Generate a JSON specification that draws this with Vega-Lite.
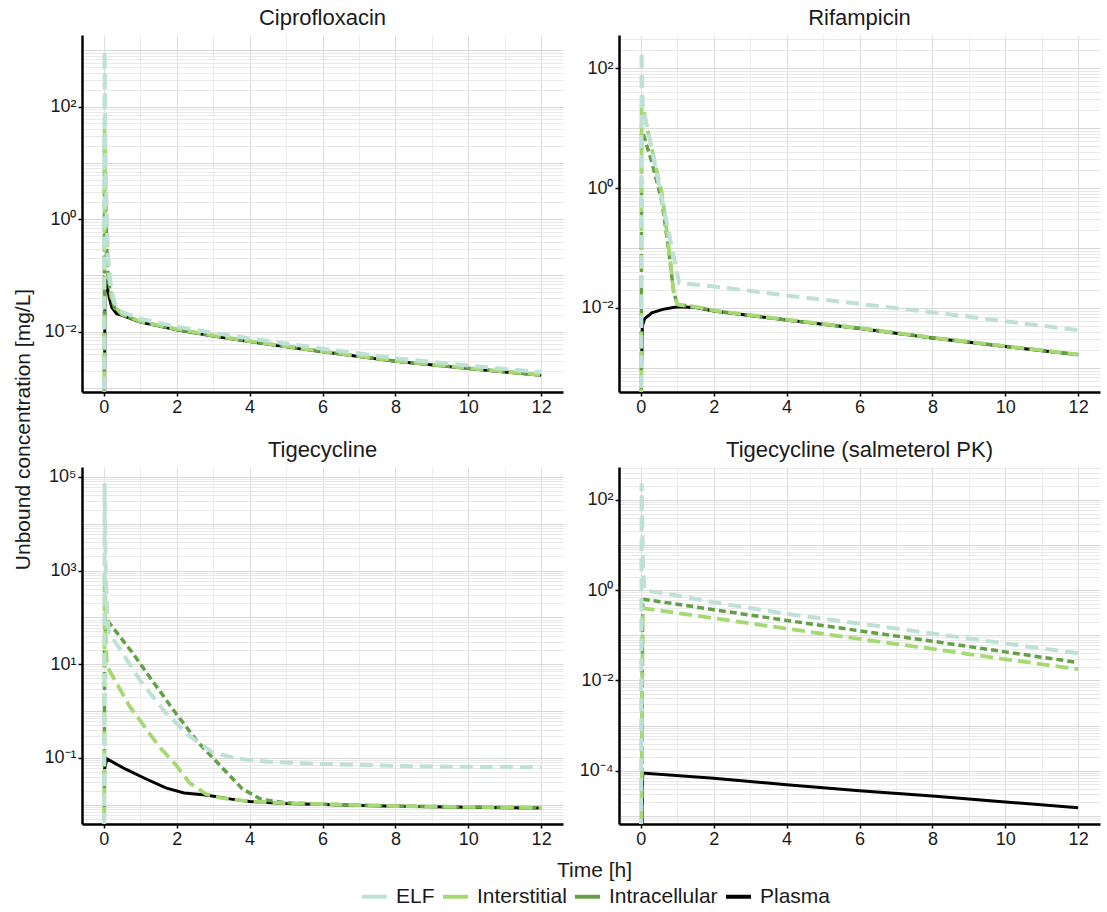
{
  "$schema": "https://vega.github.io/schema/vega-lite/v6.json",
  "padding": {"left": 12, "top": 7, "right": 4, "bottom": 0},
  "datasets": {
    "pk": [
      {"drug":"Ciprofloxacin","site":"ELF","time":0,"conc":1e-8},{"drug":"Ciprofloxacin","site":"ELF","time":0.02,"conc":955},{"drug":"Ciprofloxacin","site":"ELF","time":0.04,"conc":30},{"drug":"Ciprofloxacin","site":"ELF","time":0.08,"conc":1.0},{"drug":"Ciprofloxacin","site":"ELF","time":0.12,"conc":0.2},{"drug":"Ciprofloxacin","site":"ELF","time":0.2,"conc":0.06},{"drug":"Ciprofloxacin","site":"ELF","time":0.3,"conc":0.032},{"drug":"Ciprofloxacin","site":"ELF","time":0.5,"conc":0.0224},{"drug":"Ciprofloxacin","site":"ELF","time":1,"conc":0.017},{"drug":"Ciprofloxacin","site":"ELF","time":2,"conc":0.0123},{"drug":"Ciprofloxacin","site":"ELF","time":3,"conc":0.00955},{"drug":"Ciprofloxacin","site":"ELF","time":4,"conc":0.00759},{"drug":"Ciprofloxacin","site":"ELF","time":6,"conc":0.00501},{"drug":"Ciprofloxacin","site":"ELF","time":8,"conc":0.00339},{"drug":"Ciprofloxacin","site":"ELF","time":10,"conc":0.00251},{"drug":"Ciprofloxacin","site":"ELF","time":12,"conc":0.00191},
      {"drug":"Ciprofloxacin","site":"Interstitial","time":0,"conc":1e-8},{"drug":"Ciprofloxacin","site":"Interstitial","time":0.02,"conc":40},{"drug":"Ciprofloxacin","site":"Interstitial","time":0.04,"conc":5},{"drug":"Ciprofloxacin","site":"Interstitial","time":0.08,"conc":0.5},{"drug":"Ciprofloxacin","site":"Interstitial","time":0.12,"conc":0.12},{"drug":"Ciprofloxacin","site":"Interstitial","time":0.2,"conc":0.045},{"drug":"Ciprofloxacin","site":"Interstitial","time":0.3,"conc":0.028},{"drug":"Ciprofloxacin","site":"Interstitial","time":0.5,"conc":0.0205},{"drug":"Ciprofloxacin","site":"Interstitial","time":1,"conc":0.0153},{"drug":"Ciprofloxacin","site":"Interstitial","time":2,"conc":0.0111},{"drug":"Ciprofloxacin","site":"Interstitial","time":3,"conc":0.0086},{"drug":"Ciprofloxacin","site":"Interstitial","time":4,"conc":0.0068},{"drug":"Ciprofloxacin","site":"Interstitial","time":6,"conc":0.0045},{"drug":"Ciprofloxacin","site":"Interstitial","time":8,"conc":0.00305},{"drug":"Ciprofloxacin","site":"Interstitial","time":10,"conc":0.00226},{"drug":"Ciprofloxacin","site":"Interstitial","time":12,"conc":0.00171},
      {"drug":"Ciprofloxacin","site":"Intracellular","time":0,"conc":1e-8},{"drug":"Ciprofloxacin","site":"Intracellular","time":0.02,"conc":31.6},{"drug":"Ciprofloxacin","site":"Intracellular","time":0.04,"conc":3},{"drug":"Ciprofloxacin","site":"Intracellular","time":0.08,"conc":0.3},{"drug":"Ciprofloxacin","site":"Intracellular","time":0.12,"conc":0.09},{"drug":"Ciprofloxacin","site":"Intracellular","time":0.2,"conc":0.04},{"drug":"Ciprofloxacin","site":"Intracellular","time":0.3,"conc":0.026},{"drug":"Ciprofloxacin","site":"Intracellular","time":0.5,"conc":0.02},{"drug":"Ciprofloxacin","site":"Intracellular","time":1,"conc":0.0151},{"drug":"Ciprofloxacin","site":"Intracellular","time":2,"conc":0.01096},{"drug":"Ciprofloxacin","site":"Intracellular","time":3,"conc":0.00851},{"drug":"Ciprofloxacin","site":"Intracellular","time":4,"conc":0.00676},{"drug":"Ciprofloxacin","site":"Intracellular","time":6,"conc":0.00447},{"drug":"Ciprofloxacin","site":"Intracellular","time":8,"conc":0.00302},{"drug":"Ciprofloxacin","site":"Intracellular","time":10,"conc":0.00224},{"drug":"Ciprofloxacin","site":"Intracellular","time":12,"conc":0.0017},
      {"drug":"Ciprofloxacin","site":"Plasma","time":0,"conc":1e-8},{"drug":"Ciprofloxacin","site":"Plasma","time":0.03,"conc":0.085},{"drug":"Ciprofloxacin","site":"Plasma","time":0.06,"conc":0.08},{"drug":"Ciprofloxacin","site":"Plasma","time":0.1,"conc":0.06},{"drug":"Ciprofloxacin","site":"Plasma","time":0.15,"conc":0.04},{"drug":"Ciprofloxacin","site":"Plasma","time":0.22,"conc":0.027},{"drug":"Ciprofloxacin","site":"Plasma","time":0.35,"conc":0.021},{"drug":"Ciprofloxacin","site":"Plasma","time":0.5,"conc":0.0195},{"drug":"Ciprofloxacin","site":"Plasma","time":1,"conc":0.0149},{"drug":"Ciprofloxacin","site":"Plasma","time":2,"conc":0.0108},{"drug":"Ciprofloxacin","site":"Plasma","time":3,"conc":0.0084},{"drug":"Ciprofloxacin","site":"Plasma","time":4,"conc":0.0067},{"drug":"Ciprofloxacin","site":"Plasma","time":6,"conc":0.00443},{"drug":"Ciprofloxacin","site":"Plasma","time":8,"conc":0.003},{"drug":"Ciprofloxacin","site":"Plasma","time":10,"conc":0.00222},{"drug":"Ciprofloxacin","site":"Plasma","time":12,"conc":0.00169},

      {"drug":"Rifampicin","site":"ELF","time":0,"conc":1e-8},{"drug":"Rifampicin","site":"ELF","time":0.02,"conc":190},{"drug":"Rifampicin","site":"ELF","time":0.05,"conc":24},{"drug":"Rifampicin","site":"ELF","time":0.3,"conc":4.4},{"drug":"Rifampicin","site":"ELF","time":0.5,"conc":1.12},{"drug":"Rifampicin","site":"ELF","time":0.8,"conc":0.145},{"drug":"Rifampicin","site":"ELF","time":1.05,"conc":0.0263},{"drug":"Rifampicin","site":"ELF","time":2,"conc":0.0229},{"drug":"Rifampicin","site":"ELF","time":4,"conc":0.0162},{"drug":"Rifampicin","site":"ELF","time":6,"conc":0.0117},{"drug":"Rifampicin","site":"ELF","time":8,"conc":0.0085},{"drug":"Rifampicin","site":"ELF","time":10,"conc":0.006},{"drug":"Rifampicin","site":"ELF","time":12,"conc":0.00427},
      {"drug":"Rifampicin","site":"Interstitial","time":0,"conc":1e-8},{"drug":"Rifampicin","site":"Interstitial","time":0.02,"conc":24},{"drug":"Rifampicin","site":"Interstitial","time":0.05,"conc":22},{"drug":"Rifampicin","site":"Interstitial","time":0.3,"conc":4.5},{"drug":"Rifampicin","site":"Interstitial","time":0.58,"conc":0.8},{"drug":"Rifampicin","site":"Interstitial","time":0.77,"conc":0.1},{"drug":"Rifampicin","site":"Interstitial","time":0.9,"conc":0.019},{"drug":"Rifampicin","site":"Interstitial","time":1.0,"conc":0.0115},{"drug":"Rifampicin","site":"Interstitial","time":1.1,"conc":0.0112},{"drug":"Rifampicin","site":"Interstitial","time":1.5,"conc":0.0104},{"drug":"Rifampicin","site":"Interstitial","time":2,"conc":0.0091},{"drug":"Rifampicin","site":"Interstitial","time":4,"conc":0.0064},{"drug":"Rifampicin","site":"Interstitial","time":6,"conc":0.00462},{"drug":"Rifampicin","site":"Interstitial","time":8,"conc":0.0032},{"drug":"Rifampicin","site":"Interstitial","time":10,"conc":0.00231},{"drug":"Rifampicin","site":"Interstitial","time":12,"conc":0.00168},
      {"drug":"Rifampicin","site":"Intracellular","time":0,"conc":1e-8},{"drug":"Rifampicin","site":"Intracellular","time":0.02,"conc":8.5},{"drug":"Rifampicin","site":"Intracellular","time":0.05,"conc":8.5},{"drug":"Rifampicin","site":"Intracellular","time":0.3,"conc":2.7},{"drug":"Rifampicin","site":"Intracellular","time":0.58,"conc":0.59},{"drug":"Rifampicin","site":"Intracellular","time":0.77,"conc":0.085},{"drug":"Rifampicin","site":"Intracellular","time":0.9,"conc":0.0186},{"drug":"Rifampicin","site":"Intracellular","time":1.0,"conc":0.0115},{"drug":"Rifampicin","site":"Intracellular","time":1.1,"conc":0.0112},{"drug":"Rifampicin","site":"Intracellular","time":1.5,"conc":0.0104},{"drug":"Rifampicin","site":"Intracellular","time":2,"conc":0.009},{"drug":"Rifampicin","site":"Intracellular","time":4,"conc":0.0063},{"drug":"Rifampicin","site":"Intracellular","time":6,"conc":0.0046},{"drug":"Rifampicin","site":"Intracellular","time":8,"conc":0.0032},{"drug":"Rifampicin","site":"Intracellular","time":10,"conc":0.0023},{"drug":"Rifampicin","site":"Intracellular","time":12,"conc":0.00167},
      {"drug":"Rifampicin","site":"Plasma","time":0,"conc":1e-8},{"drug":"Rifampicin","site":"Plasma","time":0.02,"conc":0.001},{"drug":"Rifampicin","site":"Plasma","time":0.04,"conc":0.005},{"drug":"Rifampicin","site":"Plasma","time":0.1,"conc":0.0066},{"drug":"Rifampicin","site":"Plasma","time":0.3,"conc":0.0083},{"drug":"Rifampicin","site":"Plasma","time":0.6,"conc":0.0095},{"drug":"Rifampicin","site":"Plasma","time":1.0,"conc":0.0105},{"drug":"Rifampicin","site":"Plasma","time":1.5,"conc":0.0102},{"drug":"Rifampicin","site":"Plasma","time":2,"conc":0.0089},{"drug":"Rifampicin","site":"Plasma","time":4,"conc":0.0063},{"drug":"Rifampicin","site":"Plasma","time":6,"conc":0.00457},{"drug":"Rifampicin","site":"Plasma","time":8,"conc":0.00316},{"drug":"Rifampicin","site":"Plasma","time":10,"conc":0.00229},{"drug":"Rifampicin","site":"Plasma","time":12,"conc":0.00166},

      {"drug":"Tigecycline","site":"ELF","time":0,"conc":1e-8},{"drug":"Tigecycline","site":"ELF","time":0.02,"conc":72444},{"drug":"Tigecycline","site":"ELF","time":0.05,"conc":1000},{"drug":"Tigecycline","site":"ELF","time":0.1,"conc":100},{"drug":"Tigecycline","site":"ELF","time":0.14,"conc":47.9},{"drug":"Tigecycline","site":"ELF","time":0.5,"conc":17.8},{"drug":"Tigecycline","site":"ELF","time":1.0,"conc":4.47},{"drug":"Tigecycline","site":"ELF","time":1.7,"conc":0.91},{"drug":"Tigecycline","site":"ELF","time":2.35,"conc":0.295},{"drug":"Tigecycline","site":"ELF","time":3.0,"conc":0.129},{"drug":"Tigecycline","site":"ELF","time":3.7,"conc":0.0955},{"drug":"Tigecycline","site":"ELF","time":4.5,"conc":0.083},{"drug":"Tigecycline","site":"ELF","time":6,"conc":0.0741},{"drug":"Tigecycline","site":"ELF","time":8,"conc":0.0676},{"drug":"Tigecycline","site":"ELF","time":10,"conc":0.0646},{"drug":"Tigecycline","site":"ELF","time":12,"conc":0.0631},
      {"drug":"Tigecycline","site":"Interstitial","time":0,"conc":1e-8},{"drug":"Tigecycline","site":"Interstitial","time":0.02,"conc":871},{"drug":"Tigecycline","site":"Interstitial","time":0.05,"conc":40},{"drug":"Tigecycline","site":"Interstitial","time":0.08,"conc":9.3},{"drug":"Tigecycline","site":"Interstitial","time":0.7,"conc":1.29},{"drug":"Tigecycline","site":"Interstitial","time":1.5,"conc":0.182},{"drug":"Tigecycline","site":"Interstitial","time":2.0,"conc":0.0676},{"drug":"Tigecycline","site":"Interstitial","time":2.35,"conc":0.0295},{"drug":"Tigecycline","site":"Interstitial","time":2.8,"conc":0.017},{"drug":"Tigecycline","site":"Interstitial","time":3.2,"conc":0.0141},{"drug":"Tigecycline","site":"Interstitial","time":4,"conc":0.0118},{"drug":"Tigecycline","site":"Interstitial","time":5,"conc":0.0108},{"drug":"Tigecycline","site":"Interstitial","time":6,"conc":0.0103},{"drug":"Tigecycline","site":"Interstitial","time":8,"conc":0.0094},{"drug":"Tigecycline","site":"Interstitial","time":10,"conc":0.009},{"drug":"Tigecycline","site":"Interstitial","time":12,"conc":0.0086},
      {"drug":"Tigecycline","site":"Intracellular","time":0,"conc":1e-8},{"drug":"Tigecycline","site":"Intracellular","time":0.02,"conc":30},{"drug":"Tigecycline","site":"Intracellular","time":0.05,"conc":60},{"drug":"Tigecycline","site":"Intracellular","time":0.14,"conc":77.6},{"drug":"Tigecycline","site":"Intracellular","time":0.78,"conc":17.8},{"drug":"Tigecycline","site":"Intracellular","time":1.43,"conc":3.47},{"drug":"Tigecycline","site":"Intracellular","time":1.97,"conc":0.91},{"drug":"Tigecycline","site":"Intracellular","time":2.6,"conc":0.209},{"drug":"Tigecycline","site":"Intracellular","time":3.2,"conc":0.0676},{"drug":"Tigecycline","site":"Intracellular","time":3.8,"conc":0.0219},{"drug":"Tigecycline","site":"Intracellular","time":4.3,"conc":0.0132},{"drug":"Tigecycline","site":"Intracellular","time":5,"conc":0.011},{"drug":"Tigecycline","site":"Intracellular","time":6,"conc":0.0103},{"drug":"Tigecycline","site":"Intracellular","time":8,"conc":0.0094},{"drug":"Tigecycline","site":"Intracellular","time":10,"conc":0.009},{"drug":"Tigecycline","site":"Intracellular","time":12,"conc":0.0086},
      {"drug":"Tigecycline","site":"Plasma","time":0,"conc":1e-8},{"drug":"Tigecycline","site":"Plasma","time":0.02,"conc":0.058},{"drug":"Tigecycline","site":"Plasma","time":0.08,"conc":0.0955},{"drug":"Tigecycline","site":"Plasma","time":0.6,"conc":0.0575},{"drug":"Tigecycline","site":"Plasma","time":1.16,"conc":0.0355},{"drug":"Tigecycline","site":"Plasma","time":1.7,"conc":0.0229},{"drug":"Tigecycline","site":"Plasma","time":2.2,"conc":0.0178},{"drug":"Tigecycline","site":"Plasma","time":2.8,"conc":0.0162},{"drug":"Tigecycline","site":"Plasma","time":3.5,"conc":0.0132},{"drug":"Tigecycline","site":"Plasma","time":4,"conc":0.0118},{"drug":"Tigecycline","site":"Plasma","time":5,"conc":0.0107},{"drug":"Tigecycline","site":"Plasma","time":6,"conc":0.0102},{"drug":"Tigecycline","site":"Plasma","time":8,"conc":0.0093},{"drug":"Tigecycline","site":"Plasma","time":10,"conc":0.0089},{"drug":"Tigecycline","site":"Plasma","time":12,"conc":0.0085},

      {"drug":"Tigecycline (salmeterol PK)","site":"ELF","time":0,"conc":1e-8},{"drug":"Tigecycline (salmeterol PK)","site":"ELF","time":0.02,"conc":234},{"drug":"Tigecycline (salmeterol PK)","site":"ELF","time":0.06,"conc":3},{"drug":"Tigecycline (salmeterol PK)","site":"ELF","time":0.1,"conc":1.0},{"drug":"Tigecycline (salmeterol PK)","site":"ELF","time":1,"conc":0.76},{"drug":"Tigecycline (salmeterol PK)","site":"ELF","time":2,"conc":0.54},{"drug":"Tigecycline (salmeterol PK)","site":"ELF","time":4,"conc":0.30},{"drug":"Tigecycline (salmeterol PK)","site":"ELF","time":6,"conc":0.182},{"drug":"Tigecycline (salmeterol PK)","site":"ELF","time":8,"conc":0.11},{"drug":"Tigecycline (salmeterol PK)","site":"ELF","time":10,"conc":0.066},{"drug":"Tigecycline (salmeterol PK)","site":"ELF","time":12,"conc":0.04},
      {"drug":"Tigecycline (salmeterol PK)","site":"Interstitial","time":0,"conc":1e-8},{"drug":"Tigecycline (salmeterol PK)","site":"Interstitial","time":0.05,"conc":0.40},{"drug":"Tigecycline (salmeterol PK)","site":"Interstitial","time":2,"conc":0.24},{"drug":"Tigecycline (salmeterol PK)","site":"Interstitial","time":4,"conc":0.141},{"drug":"Tigecycline (salmeterol PK)","site":"Interstitial","time":6,"conc":0.083},{"drug":"Tigecycline (salmeterol PK)","site":"Interstitial","time":8,"conc":0.05},{"drug":"Tigecycline (salmeterol PK)","site":"Interstitial","time":10,"conc":0.0295},{"drug":"Tigecycline (salmeterol PK)","site":"Interstitial","time":12,"conc":0.0178},
      {"drug":"Tigecycline (salmeterol PK)","site":"Intracellular","time":0,"conc":1e-8},{"drug":"Tigecycline (salmeterol PK)","site":"Intracellular","time":0.05,"conc":0.63},{"drug":"Tigecycline (salmeterol PK)","site":"Intracellular","time":1,"conc":0.49},{"drug":"Tigecycline (salmeterol PK)","site":"Intracellular","time":2,"conc":0.37},{"drug":"Tigecycline (salmeterol PK)","site":"Intracellular","time":4,"conc":0.214},{"drug":"Tigecycline (salmeterol PK)","site":"Intracellular","time":6,"conc":0.126},{"drug":"Tigecycline (salmeterol PK)","site":"Intracellular","time":8,"conc":0.074},{"drug":"Tigecycline (salmeterol PK)","site":"Intracellular","time":10,"conc":0.043},{"drug":"Tigecycline (salmeterol PK)","site":"Intracellular","time":12,"conc":0.025},
      {"drug":"Tigecycline (salmeterol PK)","site":"Plasma","time":0,"conc":1e-8},{"drug":"Tigecycline (salmeterol PK)","site":"Plasma","time":0.05,"conc":8.9e-5},{"drug":"Tigecycline (salmeterol PK)","site":"Plasma","time":2,"conc":6.8e-5},{"drug":"Tigecycline (salmeterol PK)","site":"Plasma","time":4,"conc":4.9e-5},{"drug":"Tigecycline (salmeterol PK)","site":"Plasma","time":6,"conc":3.6e-5},{"drug":"Tigecycline (salmeterol PK)","site":"Plasma","time":8,"conc":2.75e-5},{"drug":"Tigecycline (salmeterol PK)","site":"Plasma","time":10,"conc":2.04e-5},{"drug":"Tigecycline (salmeterol PK)","site":"Plasma","time":12,"conc":1.51e-5}
    ]
  },
  "config": {
    "font": "Liberation Sans",
    "view": {"stroke": null},
    "axis": {
      "labelFont": "Liberation Sans", "labelFontSize": 18, "labelColor": "#1a1a1a", "labelPadding": 2,
      "labelOverlap": false, "labelFlush": false, "labelBound": false,
      "titleFont": "Liberation Sans", "titleFontSize": 21, "titleFontWeight": "normal", "titleColor": "#1a1a1a",
      "domainColor": "#000000", "domainWidth": 2.5, "tickColor": "#000000", "tickWidth": 1.5, "tickSize": 4,
      "gridWidth": 1
    },
    "axisX": {"titlePadding": 11},
    "axisY": {"titlePadding": 10},
    "title": {"font": "Liberation Sans", "fontSize": 22, "fontWeight": "normal", "color": "#1a1a1a", "offset": 5, "anchor": "middle", "frame": "group"},
    "legend": {"labelFont": "Liberation Sans", "labelFontSize": 21, "labelColor": "#1a1a1a"}
  },
  "bounds": "flush",
  "columns": 2,
  "spacing": {"row": 75, "column": 56},
  "concat": [
    {
      "title": "Ciprofloxacin",
      "width": 481, "height": 357,
      "data": {"name": "pk"},
      "transform": [{"filter": "datum.drug == 'Ciprofloxacin'"}],
      "encoding": {
        "x": {"field": "time", "type": "quantitative", "scale": {"domain": [-0.6, 12.6], "nice": false, "zero": false},
              "axis": {"title": null, "values": [0,1,2,3,4,5,6,7,8,9,10,11,12], "labelExpr": "datum.value % 2 == 0 ? datum.label : ''",
                       "tickOpacity": {"condition": {"test": "datum.value % 2 == 0", "value": 1}, "value": 0},
                       "gridColor": {"condition": {"test": "datum.value % 2 == 0", "value": "#dedede"}, "value": "#ececec"}}},
        "y": {"field": "conc", "type": "quantitative", "scale": {"type": "log", "domain": [0.000851, 1862], "nice": false},
              "axis": {"title": "Unbound concentration [mg/L]", "titleY": 394,
                       "values": [1e-6,2e-6,3e-6,4e-6,5e-6,6e-6,7e-6,8e-6,9e-6,1e-5,2e-5,3e-5,4e-5,5e-5,6e-5,7e-5,8e-5,9e-5,1e-4,2e-4,3e-4,4e-4,5e-4,6e-4,7e-4,8e-4,9e-4,0.001,0.002,0.003,0.004,0.005,0.006,0.007,0.008,0.009,0.01,0.02,0.03,0.04,0.05,0.06,0.07,0.08,0.09,0.1,0.2,0.3,0.4,0.5,0.6,0.7,0.8,0.9,1,2,3,4,5,6,7,8,9,10,20,30,40,50,60,70,80,90,100,200,300,400,500,600,700,800,900,1000,2000,3000,4000,5000,6000,7000,8000,9000,10000,20000,30000,40000,50000,60000,70000,80000,90000,100000,200000,300000,400000,500000,600000,700000,800000,900000],
                       "labelExpr": "datum.value == 100 ? '10²' : datum.value == 1 ? '10⁰' : datum.value == 0.01 ? '10⁻²' : ''",
                       "labelFontSize": {"condition": {"test": "indexof([100, 1, 0.01], datum.value) >= 0", "value": 18}, "value": 1},
                       "tickOpacity": {"condition": {"test": "indexof([100, 1, 0.01], datum.value) >= 0", "value": 1}, "value": 0},
                       "gridColor": {"condition": {"test": "indexof([0.000001,0.00001,0.0001,0.001,0.01,0.1,1,10,100,1000,10000,100000], datum.value) >= 0", "value": "#d8d8d8"}, "value": "#e9e9e9"}}},
        "color": {"field": "site", "type": "nominal", "title": null,
                  "scale": {"domain": ["ELF", "Interstitial", "Intracellular", "Plasma"], "range": ["#bfe0d6", "#a6d873", "#64a047", "#000000"]},
                  "legend": {"orient": "none", "direction": "horizontal", "legendX": 278, "legendY": 847, "symbolType": "stroke", "symbolStrokeWidth": 4, "symbolSize": 625, "symbolDash": [], "columnPadding": 0, "labelOffset": 7}}
      },
      "layer": [
        {"transform": [{"filter": "datum.site == 'Plasma'"}], "mark": {"type": "line", "clip": true, "strokeWidth": 3}},
        {"transform": [{"filter": "datum.site == 'Intracellular'"}], "mark": {"type": "line", "clip": true, "strokeWidth": 3.5, "strokeDash": [7, 4]}},
        {"transform": [{"filter": "datum.site == 'Interstitial'"}], "mark": {"type": "line", "clip": true, "strokeWidth": 3.8, "strokeDash": [13, 6]}},
        {"transform": [{"filter": "datum.site == 'ELF'"}], "mark": {"type": "line", "clip": true, "strokeWidth": 4, "strokeDash": [13, 7]}}
      ]
    },
    {
      "title": "Rifampicin",
      "width": 481, "height": 357,
      "data": {"name": "pk"},
      "transform": [{"filter": "datum.drug == 'Rifampicin'"}],
      "encoding": {
        "x": {"field": "time", "type": "quantitative", "scale": {"domain": [-0.6, 12.6], "nice": false, "zero": false},
              "axis": {"title": null, "values": [0,1,2,3,4,5,6,7,8,9,10,11,12], "labelExpr": "datum.value % 2 == 0 ? datum.label : ''",
                       "tickOpacity": {"condition": {"test": "datum.value % 2 == 0", "value": 1}, "value": 0},
                       "gridColor": {"condition": {"test": "datum.value % 2 == 0", "value": "#dedede"}, "value": "#ececec"}}},
        "y": {"field": "conc", "type": "quantitative", "scale": {"type": "log", "domain": [0.000398, 355], "nice": false},
              "axis": {"title": null,
                       "values": [1e-6,2e-6,3e-6,4e-6,5e-6,6e-6,7e-6,8e-6,9e-6,1e-5,2e-5,3e-5,4e-5,5e-5,6e-5,7e-5,8e-5,9e-5,1e-4,2e-4,3e-4,4e-4,5e-4,6e-4,7e-4,8e-4,9e-4,0.001,0.002,0.003,0.004,0.005,0.006,0.007,0.008,0.009,0.01,0.02,0.03,0.04,0.05,0.06,0.07,0.08,0.09,0.1,0.2,0.3,0.4,0.5,0.6,0.7,0.8,0.9,1,2,3,4,5,6,7,8,9,10,20,30,40,50,60,70,80,90,100,200,300,400,500,600,700,800,900,1000,2000,3000,4000,5000,6000,7000,8000,9000,10000,20000,30000,40000,50000,60000,70000,80000,90000,100000,200000,300000,400000,500000,600000,700000,800000,900000],
                       "labelExpr": "datum.value == 100 ? '10²' : datum.value == 1 ? '10⁰' : datum.value == 0.01 ? '10⁻²' : ''",
                       "labelFontSize": {"condition": {"test": "indexof([100, 1, 0.01], datum.value) >= 0", "value": 18}, "value": 1},
                       "tickOpacity": {"condition": {"test": "indexof([100, 1, 0.01], datum.value) >= 0", "value": 1}, "value": 0},
                       "gridColor": {"condition": {"test": "indexof([0.000001,0.00001,0.0001,0.001,0.01,0.1,1,10,100,1000,10000,100000], datum.value) >= 0", "value": "#d8d8d8"}, "value": "#e9e9e9"}}},
        "color": {"field": "site", "type": "nominal", "title": null,
                  "scale": {"domain": ["ELF", "Interstitial", "Intracellular", "Plasma"], "range": ["#bfe0d6", "#a6d873", "#64a047", "#000000"]}}
      },
      "layer": [
        {"transform": [{"filter": "datum.site == 'Plasma'"}], "mark": {"type": "line", "clip": true, "strokeWidth": 3}},
        {"transform": [{"filter": "datum.site == 'Intracellular'"}], "mark": {"type": "line", "clip": true, "strokeWidth": 3.5, "strokeDash": [7, 4]}},
        {"transform": [{"filter": "datum.site == 'Interstitial'"}], "mark": {"type": "line", "clip": true, "strokeWidth": 3.8, "strokeDash": [13, 6]}},
        {"transform": [{"filter": "datum.site == 'ELF'"}], "mark": {"type": "line", "clip": true, "strokeWidth": 4, "strokeDash": [13, 7]}}
      ]
    },
    {
      "title": "Tigecycline",
      "width": 481, "height": 357,
      "data": {"name": "pk"},
      "transform": [{"filter": "datum.drug == 'Tigecycline'"}],
      "encoding": {
        "x": {"field": "time", "type": "quantitative", "scale": {"domain": [-0.6, 12.6], "nice": false, "zero": false},
              "axis": {"title": "Time [h]", "titleX": 512, "values": [0,1,2,3,4,5,6,7,8,9,10,11,12], "labelExpr": "datum.value % 2 == 0 ? datum.label : ''",
                       "tickOpacity": {"condition": {"test": "datum.value % 2 == 0", "value": 1}, "value": 0},
                       "gridColor": {"condition": {"test": "datum.value % 2 == 0", "value": "#dedede"}, "value": "#ececec"}}},
        "y": {"field": "conc", "type": "quantitative", "scale": {"type": "log", "domain": [0.00389, 162181], "nice": false},
              "axis": {"title": null,
                       "values": [1e-6,2e-6,3e-6,4e-6,5e-6,6e-6,7e-6,8e-6,9e-6,1e-5,2e-5,3e-5,4e-5,5e-5,6e-5,7e-5,8e-5,9e-5,1e-4,2e-4,3e-4,4e-4,5e-4,6e-4,7e-4,8e-4,9e-4,0.001,0.002,0.003,0.004,0.005,0.006,0.007,0.008,0.009,0.01,0.02,0.03,0.04,0.05,0.06,0.07,0.08,0.09,0.1,0.2,0.3,0.4,0.5,0.6,0.7,0.8,0.9,1,2,3,4,5,6,7,8,9,10,20,30,40,50,60,70,80,90,100,200,300,400,500,600,700,800,900,1000,2000,3000,4000,5000,6000,7000,8000,9000,10000,20000,30000,40000,50000,60000,70000,80000,90000,100000,200000,300000,400000,500000,600000,700000,800000,900000],
                       "labelExpr": "datum.value == 100000 ? '10⁵' : datum.value == 1000 ? '10³' : datum.value == 10 ? '10¹' : datum.value == 0.1 ? '10⁻¹' : ''",
                       "labelFontSize": {"condition": {"test": "indexof([100000, 1000, 10, 0.1], datum.value) >= 0", "value": 18}, "value": 1},
                       "tickOpacity": {"condition": {"test": "indexof([100000, 1000, 10, 0.1], datum.value) >= 0", "value": 1}, "value": 0},
                       "gridColor": {"condition": {"test": "indexof([0.000001,0.00001,0.0001,0.001,0.01,0.1,1,10,100,1000,10000,100000], datum.value) >= 0", "value": "#d8d8d8"}, "value": "#e9e9e9"}}},
        "color": {"field": "site", "type": "nominal", "title": null,
                  "scale": {"domain": ["ELF", "Interstitial", "Intracellular", "Plasma"], "range": ["#bfe0d6", "#a6d873", "#64a047", "#000000"]}}
      },
      "layer": [
        {"transform": [{"filter": "datum.site == 'Plasma'"}], "mark": {"type": "line", "clip": true, "strokeWidth": 3}},
        {"transform": [{"filter": "datum.site == 'Intracellular'"}], "mark": {"type": "line", "clip": true, "strokeWidth": 3.5, "strokeDash": [7, 4]}},
        {"transform": [{"filter": "datum.site == 'Interstitial'"}], "mark": {"type": "line", "clip": true, "strokeWidth": 3.8, "strokeDash": [13, 6]}},
        {"transform": [{"filter": "datum.site == 'ELF'"}], "mark": {"type": "line", "clip": true, "strokeWidth": 4, "strokeDash": [13, 7]}}
      ]
    },
    {
      "title": "Tigecycline (salmeterol PK)",
      "width": 481, "height": 357,
      "data": {"name": "pk"},
      "transform": [{"filter": "datum.drug == 'Tigecycline (salmeterol PK)'"}],
      "encoding": {
        "x": {"field": "time", "type": "quantitative", "scale": {"domain": [-0.6, 12.6], "nice": false, "zero": false},
              "axis": {"title": null, "values": [0,1,2,3,4,5,6,7,8,9,10,11,12], "labelExpr": "datum.value % 2 == 0 ? datum.label : ''",
                       "tickOpacity": {"condition": {"test": "datum.value % 2 == 0", "value": 1}, "value": 0},
                       "gridColor": {"condition": {"test": "datum.value % 2 == 0", "value": "#dedede"}, "value": "#ececec"}}},
        "y": {"field": "conc", "type": "quantitative", "scale": {"type": "log", "domain": [0.0000066, 537], "nice": false},
              "axis": {"title": null,
                       "values": [1e-6,2e-6,3e-6,4e-6,5e-6,6e-6,7e-6,8e-6,9e-6,1e-5,2e-5,3e-5,4e-5,5e-5,6e-5,7e-5,8e-5,9e-5,1e-4,2e-4,3e-4,4e-4,5e-4,6e-4,7e-4,8e-4,9e-4,0.001,0.002,0.003,0.004,0.005,0.006,0.007,0.008,0.009,0.01,0.02,0.03,0.04,0.05,0.06,0.07,0.08,0.09,0.1,0.2,0.3,0.4,0.5,0.6,0.7,0.8,0.9,1,2,3,4,5,6,7,8,9,10,20,30,40,50,60,70,80,90,100,200,300,400,500,600,700,800,900,1000,2000,3000,4000,5000,6000,7000,8000,9000,10000,20000,30000,40000,50000,60000,70000,80000,90000,100000,200000,300000,400000,500000,600000,700000,800000,900000],
                       "labelExpr": "datum.value == 100 ? '10²' : datum.value == 1 ? '10⁰' : datum.value == 0.01 ? '10⁻²' : datum.value == 0.0001 ? '10⁻⁴' : ''",
                       "labelFontSize": {"condition": {"test": "indexof([100, 1, 0.01, 0.0001], datum.value) >= 0", "value": 18}, "value": 1},
                       "tickOpacity": {"condition": {"test": "indexof([100, 1, 0.01, 0.0001], datum.value) >= 0", "value": 1}, "value": 0},
                       "gridColor": {"condition": {"test": "indexof([0.000001,0.00001,0.0001,0.001,0.01,0.1,1,10,100,1000,10000,100000], datum.value) >= 0", "value": "#d8d8d8"}, "value": "#e9e9e9"}}},
        "color": {"field": "site", "type": "nominal", "title": null,
                  "scale": {"domain": ["ELF", "Interstitial", "Intracellular", "Plasma"], "range": ["#bfe0d6", "#a6d873", "#64a047", "#000000"]}}
      },
      "layer": [
        {"transform": [{"filter": "datum.site == 'Plasma'"}], "mark": {"type": "line", "clip": true, "strokeWidth": 3}},
        {"transform": [{"filter": "datum.site == 'Intracellular'"}], "mark": {"type": "line", "clip": true, "strokeWidth": 3.5, "strokeDash": [7, 4]}},
        {"transform": [{"filter": "datum.site == 'Interstitial'"}], "mark": {"type": "line", "clip": true, "strokeWidth": 3.8, "strokeDash": [13, 6]}},
        {"transform": [{"filter": "datum.site == 'ELF'"}], "mark": {"type": "line", "clip": true, "strokeWidth": 4, "strokeDash": [13, 7]}}
      ]
    }
  ]
}
